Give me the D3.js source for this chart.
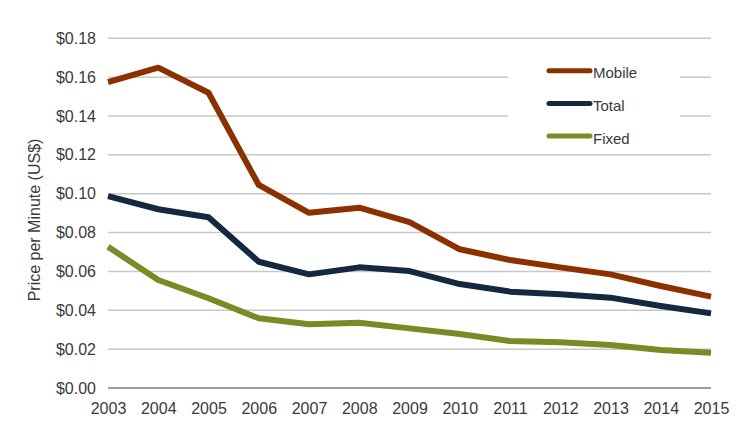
<!DOCTYPE HTML>
<html lang="en">
<head>
  <meta charset="utf-8">
  <title>Price per Minute</title>
  <script src="https://d3js.org/d3.v7.min.js"></script>
  <style>
    body { margin: 0; background: #fff; }
    text { font-family: "Liberation Sans", Helvetica, Arial, sans-serif; fill: #3a3a3a; }
  </style>
</head>
<body>
  <div id="stage"></div>
  <script>
    // data
    var years = [2003, 2004, 2005, 2006, 2007, 2008, 2009, 2010, 2011, 2012, 2013, 2014, 2015];
    var mobile = [0.1575, 0.1649, 0.1520, 0.1045, 0.0902, 0.0928, 0.0854, 0.0714, 0.0659, 0.0621, 0.0585, 0.0525, 0.0470];
    var total = [0.0988, 0.0920, 0.0879, 0.0650, 0.0585, 0.0621, 0.0602, 0.0535, 0.0496, 0.0482, 0.0465, 0.0422, 0.0384];
    var fixed = [0.0727, 0.0556, 0.0462, 0.0359, 0.0328, 0.0336, 0.0307, 0.0278, 0.0242, 0.0235, 0.0221, 0.0196, 0.0182];
    var yTicks = [0, 0.02, 0.04, 0.06, 0.08, 0.10, 0.12, 0.14, 0.16, 0.18];
    var seriesNames = ["Mobile", "Total", "Fixed"];
    var seriesColors = ["#8b3100", "#142840", "#7a8a25"];

    var W = 747, H = 447;
    var svg = d3.select("#stage").append("svg").attr("width", W).attr("height", H);

    var x = d3.scaleLinear().domain([2003, 2015]).range([108, 711]);
    var y = d3.scaleLinear().domain([0, 0.18]).range([388, 38.3]);

    // gridlines
    svg.append("g").selectAll("line").data(yTicks.filter(function (d) { return d > 0; }))
      .enter().append("line")
      .attr("x1", 108).attr("x2", 711)
      .attr("y1", function (d) { return y(d); }).attr("y2", function (d) { return y(d); })
      .attr("stroke", "#c8c8c8").attr("stroke-width", 1.5);

    // baseline
    svg.append("line").attr("x1", 108).attr("x2", 711).attr("y1", y(0)).attr("y2", y(0))
      .attr("stroke", "#7f7f7f").attr("stroke-width", 1.5);

    // y axis labels
    var yAxis = d3.axisLeft(y).tickValues(yTicks).tickSize(0).tickPadding(0)
      .tickFormat(function (d) { return "$" + d.toFixed(2); });
    var gy = svg.append("g").attr("transform", "translate(96,0)").call(yAxis);
    gy.select(".domain").remove();
    gy.selectAll("text").style("font-size", "16px");

    // x axis labels
    var xAxis = d3.axisBottom(x).tickValues(years).tickSize(0).tickPadding(0).tickFormat(d3.format("d"));
    var gx = svg.append("g").attr("transform", "translate(0,402.5)").call(xAxis);
    gx.select(".domain").remove();
    gx.selectAll("text").style("font-size", "16px");

    // y title
    svg.append("text").attr("transform", "translate(40,220) rotate(-90)")
      .attr("text-anchor", "middle").style("font-size", "16px").text("Price per Minute (US$)");

    // lines
    var lineGen = d3.line().x(function (d, i) { return x(years[i]); }).y(function (d) { return y(d); });
    var allSeries = [mobile, total, fixed];
    svg.append("g").selectAll("path").data(allSeries).enter().append("path")
      .attr("d", lineGen).attr("fill", "none")
      .attr("stroke", function (d, i) { return seriesColors[i]; })
      .attr("stroke-width", 6).attr("stroke-linejoin", "round");

    // legend box + entries
    svg.append("rect").attr("x", 508).attr("y", 52).attr("width", 172).attr("height", 96).attr("fill", "#fff");
    var leg = svg.append("g").selectAll("g").data(seriesNames).enter().append("g")
      .attr("transform", function (d, i) { return "translate(0," + (70.7 + i * 32.7) + ")"; });
    leg.append("line").attr("x1", 549).attr("x2", 590).attr("y1", 0).attr("y2", 0)
      .attr("stroke", function (d, i) { return seriesColors[i]; })
      .attr("stroke-width", 5).attr("stroke-linecap", "round");
    leg.append("text").attr("x", 593).attr("y", 7.5).style("font-size", "15px").text(function (d) { return d; });
  </script>
</body>
</html>
